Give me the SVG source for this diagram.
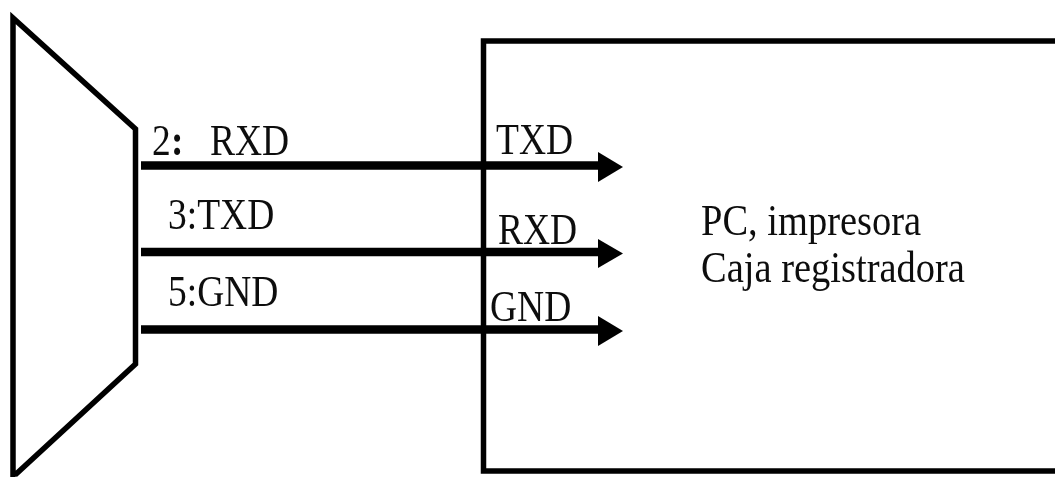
<svg xmlns="http://www.w3.org/2000/svg" width="1055" height="477" viewBox="0 0 1055 477">
<defs><filter id="soft" x="-5%" y="-5%" width="110%" height="110%"><feGaussianBlur stdDeviation="0.45"/></filter></defs>
<style>
.s{fill:none;stroke:#000;stroke-width:5.5}
.c{fill:none;stroke:#000;stroke-width:8.5}
.h{fill:#000}
text{font-family:"Liberation Serif","Times New Roman",serif;font-size:37.5px;fill:#111;filter:url(#soft)}
.p{font-size:38.5px}
</style>
<rect width="1055" height="477" fill="#fff"/>
<g id="connector-shape"><path class="s" d="M13 477V18L135.500 129V364L15 475"/></g>
<g id="pc"><path class="s" d="M1055 41H483.500V471H1055"/>
<text class="p" transform="translate(701 235) scale(1 1.15)"><tspan x="0" y="0">PC, impresora</tspan><tspan x="0" y="41">Caja registradora</tspan></text></g>
<g id="connectors">
<path class="c" d="M141 165.500H600"/><path class="h" d="M598 152L623 167L598 182Z"/>
<path class="c" d="M141 252H600"/><path class="h" d="M598 239L623 253.500L598 268Z"/>
<path class="c" d="M141 329.500H600"/><path class="h" d="M598 316L623 331L598 346Z"/>
</g>
<g id="labels">
<text transform="translate(152 155) scale(1 1.18)">2</text><text font-weight="bold" transform="translate(171 155) scale(1 1.18)">:</text><text transform="translate(210 155) scale(1 1.18)">RXD</text>
<text transform="translate(168 229) scale(1 1.18)">3:TXD</text><text transform="translate(168 306) scale(1 1.18)">5:GND</text>
<text transform="translate(496 154) scale(1 1.18)">TXD</text><text transform="translate(498 244) scale(1 1.18)">RXD</text><text transform="translate(490 321) scale(1 1.18)">GND</text>
</g>
</svg>
